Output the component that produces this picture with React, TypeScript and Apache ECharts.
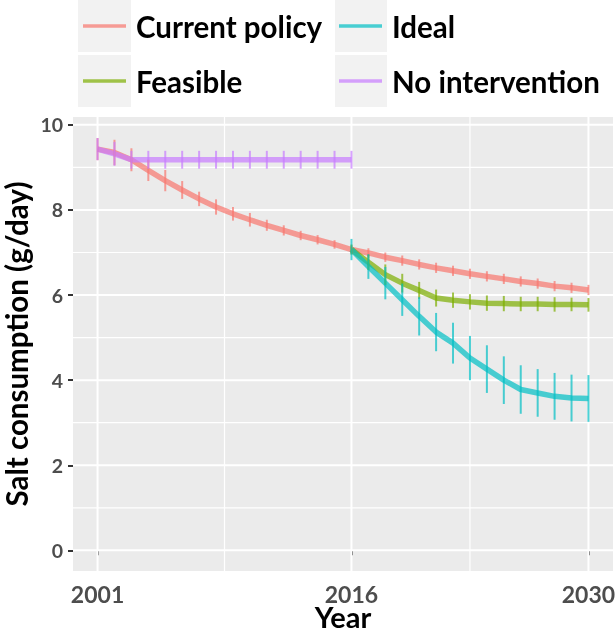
import React, { useEffect, useRef } from "react";
import * as echarts from "echarts";

const yearsAll = [2001, 2002, 2003, 2004, 2005, 2006, 2007, 2008, 2009, 2010, 2011, 2012, 2013, 2014, 2015, 2016, 2017, 2018, 2019, 2020, 2021, 2022, 2023, 2024, 2025, 2026, 2027, 2028, 2029, 2030];
const yearsPast = [2001, 2002, 2003, 2004, 2005, 2006, 2007, 2008, 2009, 2010, 2011, 2012, 2013, 2014, 2015, 2016];
const yearsFuture = [2016, 2017, 2018, 2019, 2020, 2021, 2022, 2023, 2024, 2025, 2026, 2027, 2028, 2029, 2030];

const currentPolicy = [9.43, 9.35, 9.18, 8.93, 8.69, 8.47, 8.26, 8.07, 7.91, 7.77, 7.64, 7.52, 7.40, 7.30, 7.19, 7.07, 6.99, 6.89, 6.81, 6.72, 6.64, 6.57, 6.50, 6.44, 6.38, 6.32, 6.27, 6.21, 6.17, 6.12];
const currentPolicyErr = [0.26, 0.30, 0.27, 0.25, 0.25, 0.21, 0.17, 0.18, 0.16, 0.16, 0.13, 0.12, 0.11, 0.11, 0.10, 0.10, 0.11, 0.11, 0.12, 0.12, 0.12, 0.12, 0.12, 0.12, 0.12, 0.12, 0.12, 0.12, 0.12, 0.12];

const noIntervention = [9.43, 9.32, 9.18, 9.18, 9.18, 9.18, 9.18, 9.18, 9.18, 9.18, 9.18, 9.18, 9.18, 9.18, 9.18, 9.18];
const noInterventionErr = [0.26, 0.28, 0.21, 0.21, 0.21, 0.21, 0.21, 0.21, 0.21, 0.21, 0.21, 0.21, 0.21, 0.21, 0.21, 0.21];

const feasible = [7.07, 6.77, 6.48, 6.28, 6.11, 5.93, 5.88, 5.84, 5.81, 5.80, 5.79, 5.79, 5.78, 5.78, 5.77];
const feasibleErr = [0.12, 0.18, 0.24, 0.22, 0.2, 0.2, 0.18, 0.18, 0.18, 0.18, 0.17, 0.17, 0.17, 0.16, 0.16];

const ideal = [7.07, 6.67, 6.28, 5.89, 5.50, 5.13, 4.87, 4.52, 4.26, 4.00, 3.78, 3.70, 3.62, 3.58, 3.57];
const idealErr = [0.25, 0.29, 0.38, 0.38, 0.45, 0.45, 0.48, 0.52, 0.56, 0.56, 0.57, 0.56, 0.55, 0.55, 0.55];

const xBreaks = [2001, 2016, 2030];
const xMinor = [2008.5, 2023];
const yBreaks = [0, 2, 4, 6, 8, 10];
const yMinor = [1, 3, 5, 7, 9];

const FONT = "Lato";
const COLORS: Record<string, string> = {
  "Current policy": "rgba(248,118,109,0.7)",
  Feasible: "rgba(124,174,0,0.7)",
  Ideal: "rgba(0,191,196,0.7)",
  "No intervention": "rgba(199,124,255,0.7)",
};

function lineSeries(name: string, xs: number[], ys: number[]) {
  return {
    type: "line",
    name,
    data: ys.map((v, i) => [xs[i], v]),
    showSymbol: false,
    symbol: "none",
    color: COLORS[name],
    lineStyle: { width: 5.5, color: COLORS[name] },
    z: 3,
    silent: true,
  };
}

function errSeries(name: string, xs: number[], ys: number[], es: number[]) {
  const color = COLORS[name];
  return {
    type: "custom",
    name: name + " error",
    data: ys.map((v, i) => [xs[i], v - es[i], v + es[i]]),
    encode: { x: 0, y: [1, 2] },
    silent: true,
    z: 4,
    renderItem: (params: any, api: any) => {
      const x = api.value(0);
      const a = api.coord([x, api.value(1)]);
      const b = api.coord([x, api.value(2)]);
      return {
        type: "line",
        shape: { x1: a[0], y1: a[1], x2: b[0], y2: b[1] },
        style: { stroke: color, lineWidth: 2 },
      };
    },
  };
}

export default function App() {
  const ref = useRef<HTMLDivElement>(null);
  useEffect(() => {
    document.body.style.margin = "0";
    const chart = echarts.init(ref.current!, null, { renderer: "svg" });
    const legendCommon = {
      orient: "horizontal",
      padding: 0,
      itemWidth: 43,
      itemHeight: 3.5,
      icon: "rect",
      selectedMode: false,
      textStyle: { fontSize: 29.5, fontWeight: "bold", color: "#000", fontFamily: FONT, lineHeight: 30, padding: [0, 0, 0, 5] },
    };
    const option: any = {
      animation: false,
      grid: { left: 73, right: 3, top: 117, bottom: 62, show: true, backgroundColor: "#EBEBEB", borderWidth: 0, containLabel: false, outerBoundsMode: "none" },
      graphic: [
        { type: "rect", shape: { x: 78, y: 0, width: 53, height: 52 }, style: { fill: "#F2F2F2" }, z: 0 },
        { type: "rect", shape: { x: 78, y: 55, width: 53, height: 52 }, style: { fill: "#F2F2F2" }, z: 0 },
        { type: "rect", shape: { x: 335, y: 0, width: 52, height: 52 }, style: { fill: "#F2F2F2" }, z: 0 },
        { type: "rect", shape: { x: 335, y: 55, width: 52, height: 52 }, style: { fill: "#F2F2F2" }, z: 0 },
      ],
      legend: [
        { ...legendCommon, data: ["Current policy"], left: 83, top: 11 },
        { ...legendCommon, data: ["Feasible"], left: 83, top: 66 },
        { ...legendCommon, data: ["Ideal"], left: 339, top: 11 },
        { ...legendCommon, data: ["No intervention"], left: 339, top: 66 },
      ],
      xAxis: {
        type: "value",
        min: 1999.55,
        max: 2031.45,
        axisLine: { show: false },
        splitLine: { show: false },
        axisTick: { show: true, customValues: xBreaks, length: 5, lineStyle: { color: "#333", width: 2 } },
        axisLabel: {
          customValues: xBreaks,
          fontSize: 23,
          lineHeight: 21,
          fontWeight: "bold",
          color: "#4D4D4D",
          fontFamily: FONT,
          margin: 12.3,
          formatter: (v: number) => String(v),
        },
        name: "Year",
        nameLocation: "middle",
        nameGap: 33.5,
        nameMoveOverlap: false,
        nameTextStyle: { fontSize: 29, lineHeight: 24, fontWeight: "bold", color: "#000", fontFamily: FONT },
      },
      yAxis: {
        type: "value",
        min: -0.485,
        max: 10.185,
        axisLine: { show: false },
        splitLine: { show: false },
        axisTick: { show: true, customValues: yBreaks, length: 5, lineStyle: { color: "#333", width: 2 } },
        axisLabel: {
          customValues: yBreaks,
          fontSize: 19.5,
          fontWeight: "bold",
          color: "#4D4D4D",
          fontFamily: FONT,
          margin: 10,
          formatter: (v: number) => String(v),
        },
        name: "Salt consumption (g/day)",
        nameLocation: "middle",
        nameRotate: 90,
        nameGap: 42,
        nameMoveOverlap: false,
        nameTextStyle: { fontSize: 29.5, lineHeight: 30, fontWeight: "bold", color: "#000", fontFamily: FONT },
      },
      series: [
        {
          type: "custom",
          name: "vgrid",
          silent: true,
          z: 1,
          data: [...xBreaks.map((v) => [v, 0, 2]), ...xMinor.map((v) => [v, 0, 1.2])],
          encode: { x: 0, y: 1 },
          renderItem: (params: any, api: any) => {
            const cs = params.coordSys;
            const x = api.coord([api.value(0), 0])[0];
            return { type: "line", shape: { x1: x, y1: cs.y, x2: x, y2: cs.y + cs.height }, style: { stroke: "#fff", lineWidth: api.value(2) } };
          },
        },
        {
          type: "custom",
          name: "hgrid",
          silent: true,
          z: 1,
          data: [...yBreaks.map((v) => [2001, v, 2]), ...yMinor.map((v) => [2001, v, 1.2])],
          encode: { x: 0, y: 1 },
          renderItem: (params: any, api: any) => {
            const cs = params.coordSys;
            const y = api.coord([api.value(0), api.value(1)])[1];
            return { type: "line", shape: { x1: cs.x, y1: y, x2: cs.x + cs.width, y2: y }, style: { stroke: "#fff", lineWidth: api.value(2) } };
          },
        },
        lineSeries("Current policy", yearsAll, currentPolicy),
        lineSeries("Feasible", yearsFuture, feasible),
        lineSeries("Ideal", yearsFuture, ideal),
        lineSeries("No intervention", yearsPast, noIntervention),
        errSeries("Current policy", yearsAll, currentPolicy, currentPolicyErr),
        errSeries("Feasible", yearsFuture, feasible, feasibleErr),
        errSeries("Ideal", yearsFuture, ideal, idealErr),
        errSeries("No intervention", yearsPast, noIntervention, noInterventionErr),
      ],
    };
    chart.setOption(option);
    return () => chart.dispose();
  }, []);
  return <div ref={ref} style={{ position: "fixed", left: 0, top: 0, width: 616, height: 633 }} />;
}
